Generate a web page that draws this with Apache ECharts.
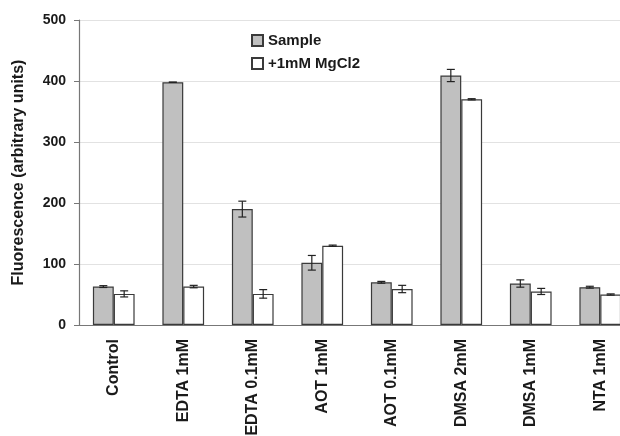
<!DOCTYPE html>
<html><head><meta charset="utf-8">
<script src="https://cdn.jsdelivr.net/npm/echarts@6/dist/echarts.min.js"></script>
<style>html,body{margin:0;padding:0;background:#fff}#c{width:620px;height:436px}</style>
</head><body><div id="c"></div>
<script>
var categories = ['Control','EDTA 1mM','EDTA 0.1mM','AOT 1mM','AOT 0.1mM','DMSA 2mM','DMSA 1mM','NTA 1mM'];
var sampleVals = [63, 398, 190, 102, 70, 409, 68, 62];
var sampleErr  = [1.5, 0, 13, 12, 1.5, 10, 6, 1.5];
var mgVals     = [51, 63, 51, 130, 59, 370, 55, 50];
var mgErr      = [5, 2, 7, 1, 6, 1, 5, 1];
var yTicks = [0, 100, 200, 300, 400, 500];

var FONT = '"Liberation Sans", Arial, sans-serif';
function errData(vals, errs){
  return vals.map(function(v,i){ return [i, v-errs[i], v+errs[i]]; });
}
function errRender(side){
  return function(params, api){
    var band = api.size([1,0])[0];
    var off = side * band * 0.15;
    var lo = api.coord([api.value(0), api.value(1)]);
    var hi = api.coord([api.value(0), api.value(2)]);
    var x = lo[0] + off, cw = 4;
    var st = {stroke:'#222', lineWidth:1.2};
    return {type:'group', children:[
      {type:'line', shape:{x1:x,y1:lo[1],x2:x,y2:hi[1]}, style:st},
      {type:'line', shape:{x1:x-cw,y1:lo[1],x2:x+cw,y2:lo[1]}, style:st},
      {type:'line', shape:{x1:x-cw,y1:hi[1],x2:x+cw,y2:hi[1]}, style:st}
    ]};
  };
}
var chart = echarts.init(document.getElementById('c'));
chart.setOption({
  animation:false,
  textStyle:{fontFamily:FONT},
  grid:{left:79, top:20, width:556, height:305, containLabel:false, outerBoundsMode:'none'},
  legend:{
    orient:'vertical', left:246, top:28, itemWidth:11, itemHeight:11, itemGap:8, icon:'rect',
    data:['Sample','+1mM MgCl2'],
    textStyle:{fontFamily:FONT, fontSize:15, fontWeight:'bold', color:'#1a1a1a'}
  },
  xAxis:{
    type:'category', data:categories,
    axisLine:{lineStyle:{color:'#777', width:1.2}},
    axisTick:{length:5, lineStyle:{color:'#777'}},
    axisLabel:{rotate:90, margin:14, fontSize:16, fontWeight:'bold', color:'#1a1a1a', fontFamily:FONT}
  },
  yAxis:{
    type:'value', min:yTicks[0], max:yTicks[yTicks.length-1], interval:100,
    name:'Fluorescence (arbitrary units)', nameLocation:'middle', nameGap:52,
    nameTextStyle:{fontSize:16, fontWeight:'bold', color:'#1a1a1a', fontFamily:FONT},
    axisLine:{show:true, lineStyle:{color:'#777', width:1.2}},
    axisTick:{show:true, length:5, lineStyle:{color:'#777'}},
    splitLine:{lineStyle:{color:'#e2e2e2'}},
    axisLabel:{margin:13, fontSize:14, fontWeight:'bold', color:'#1a1a1a', fontFamily:FONT}
  },
  series:[
    {name:'Sample', type:'bar', data:sampleVals, barGap:'0%', barCategoryGap:'40%',
     itemStyle:{color:'#c0c0c0', borderColor:'#3a3a3a', borderWidth:1.2}},
    {name:'+1mM MgCl2', type:'bar', data:mgVals,
     itemStyle:{color:'#ffffff', borderColor:'#3a3a3a', borderWidth:1.2}},
    {type:'custom', renderItem:errRender(-1), data:errData(sampleVals, sampleErr), encode:{x:0,y:[1,2]}, z:5, silent:true},
    {type:'custom', renderItem:errRender(1), data:errData(mgVals, mgErr), encode:{x:0,y:[1,2]}, z:5, silent:true}
  ]
});
</script></body></html>
